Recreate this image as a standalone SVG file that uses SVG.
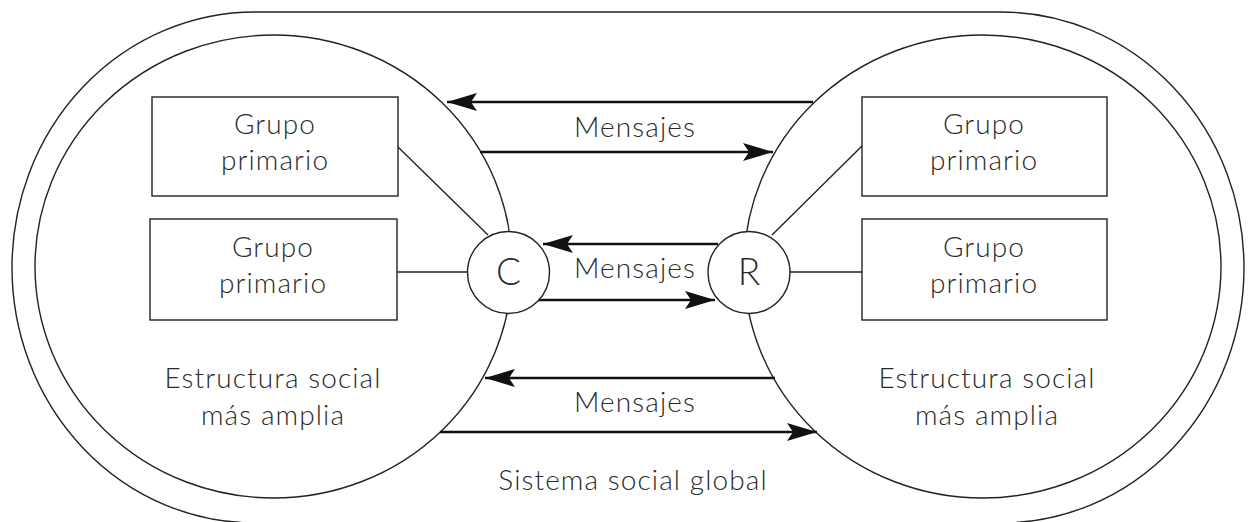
<svg xmlns="http://www.w3.org/2000/svg" width="1248" height="522" viewBox="0 0 1248 522">
<defs>
<style>
.ln{fill:none;stroke:#222;stroke-width:1.4}
.ar{fill:none;stroke:#111;stroke-width:2.6}
.bx{fill:#fff;stroke:#222;stroke-width:1.4}
.t{font-family:Lato,"Open Sans","Liberation Sans",sans-serif;font-weight:300;fill:#2a2a2a;text-anchor:middle;font-size:28px;letter-spacing:1.1px}
.big{font-size:37px;letter-spacing:0}
</style>
<marker id="ah" viewBox="0 0 30 18" refX="30" refY="9" markerWidth="30" markerHeight="18" markerUnits="userSpaceOnUse" orient="auto">
<path d="M30,9 L0,0 L6,9 L0,18 Z" fill="#111"/>
</marker>
</defs>
<rect width="1248" height="522" fill="#fff"/>
<g id="sistema">
<path class="ln" d="M255,12 H1001 A243,255.5 0 0 1 1001,523 H255 A243,255.5 0 0 1 255,12 Z"/>
<text class="t" x="633" y="490">Sistema social global</text>
</g>
<g id="estructura-izq">
<ellipse class="ln" cx="273.5" cy="266.5" rx="238.5" ry="231.5"/>
<text class="t" x="273" y="388">Estructura social</text>
<text class="t" x="273" y="425">más amplia</text>
</g>
<g id="estructura-der">
<ellipse class="ln" cx="982.5" cy="266.5" rx="238.5" ry="231.5"/>
<text class="t" x="987" y="388">Estructura social</text>
<text class="t" x="987" y="425">más amplia</text>
</g>
<g id="connectors">
<line class="ln" x1="398" y1="147" x2="488" y2="235"/>
<line class="ln" x1="397" y1="272" x2="468" y2="272"/>
<line class="ln" x1="772" y1="235" x2="862" y2="146"/>
<line class="ln" x1="790" y1="272" x2="862" y2="272"/>
<line class="ar" x1="813" y1="102" x2="447" y2="102" marker-end="url(#ah)"/>
<line class="ar" x1="480" y1="152" x2="773" y2="152" marker-end="url(#ah)"/>
<line class="ar" x1="718" y1="244" x2="543" y2="244" marker-end="url(#ah)"/>
<line class="ar" x1="538" y1="300" x2="715" y2="300" marker-end="url(#ah)"/>
<line class="ar" x1="775" y1="378" x2="485" y2="378" marker-end="url(#ah)"/>
<line class="ar" x1="440" y1="432" x2="817" y2="432" marker-end="url(#ah)"/>
<text class="t" x="635" y="137">Mensajes</text>
<text class="t" x="635" y="278">Mensajes</text>
<text class="t" x="635" y="412">Mensajes</text>
</g>
<g id="gp-izq-1">
<rect class="bx" x="152" y="97" width="246" height="99"/>
<text class="t" x="275" y="134">Grupo</text>
<text class="t" x="275" y="170">primario</text>
</g>
<g id="gp-izq-2">
<rect class="bx" x="150" y="219" width="247" height="101"/>
<text class="t" x="273" y="257">Grupo</text>
<text class="t" x="273" y="293">primario</text>
</g>
<g id="gp-der-1">
<rect class="bx" x="862" y="97" width="245" height="99"/>
<text class="t" x="984" y="134">Grupo</text>
<text class="t" x="984" y="170">primario</text>
</g>
<g id="gp-der-2">
<rect class="bx" x="862" y="219" width="245" height="101"/>
<text class="t" x="984" y="257">Grupo</text>
<text class="t" x="984" y="293">primario</text>
</g>
<g id="C">
<circle class="bx" cx="508.5" cy="272.5" r="41"/>
<text class="t big" x="508.5" y="285">C</text>
</g>
<g id="R">
<circle class="bx" cx="749" cy="272.5" r="41"/>
<text class="t big" x="749" y="285">R</text>
</g>
</svg>
